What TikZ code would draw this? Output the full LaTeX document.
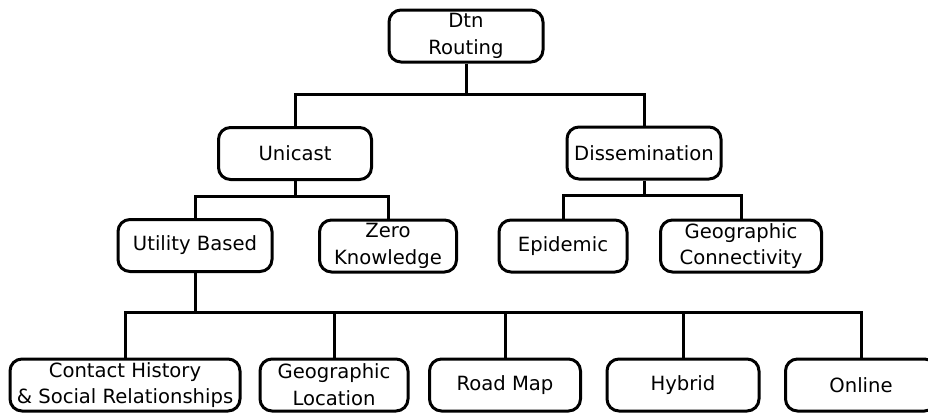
\documentclass[tikz,border=0pt]{standalone}
\usepackage{xcolor}
\usepackage{fontspec}
\setmainfont{DejaVu Sans}
\usepackage{tikz}

\tikzset{
  tbox/.style={draw, line width=2.25pt, rounded corners=9pt, align=center,
    inner sep=0pt, minimum height=39pt, minimum width=#1*0.75pt,
    font=\fontsize{14.7}{20}\selectfont},
  tline/.style={line width=2.25pt}
}

\begin{document}
\begin{tikzpicture}[x=0.75pt,y=0.75pt,yscale=-1,xscale=1]
%set diagram left start at 0, and has height of 414
\useasboundingbox (0,0) rectangle (928,414);

% Root
\node [tbox=154] (root) at (466,36) {Dtn\\Routing};
% Second level
\node [tbox=153] (unicast) at (295,153.5) {Unicast};
\node [tbox=154] (dissem) at (644,153) {Dissemination};
% Third level
\node [tbox=154] (utility) at (195,245.5) {Utility Based};
\node [tbox=137] (zero) at (388,246) {Zero\\Knowledge};
\node [tbox=128] (epidemic) at (563,246) {Epidemic};
\node [tbox=161] (geoconn) at (741,246) {Geographic\\Connectivity};
% Fourth level (Online runs past the right edge)
\node [tbox=230] (contact) at (125,385) {Contact History\\\& Social Relationships};
\node [tbox=148] (geoloc) at (334,385) {Geographic\\Location};
\node [tbox=151] (roadmap) at (505,385) {Road Map};
\node [tbox=152] (hybrid) at (683,385) {Hybrid};
\node [tbox=151] (online) at (861,385) {Online};

% Connectors
\draw [tline] (root.south) -- ++(0,31) coordinate (j1) -| (unicast.north);
\draw [tline] (j1) -| (dissem.north);
\draw [tline] (unicast.south) -- ++(0,15) coordinate (j2) -| (utility.north);
\draw [tline] (j2) -| (zero.north);
\draw [tline] (dissem.south) -- ++(0,15) coordinate (j3) -| (epidemic.north);
\draw [tline] (j3) -| (geoconn.north);
\draw [tline] (utility.south) -- ++(0,39) coordinate (j4) -| (contact.north);
\draw [tline] (j4) -| (geoloc.north);
\draw [tline] (j4) -| (roadmap.north);
\draw [tline] (j4) -| (hybrid.north);
\draw [tline] (j4) -| (online.north);

\end{tikzpicture}
\end{document}
